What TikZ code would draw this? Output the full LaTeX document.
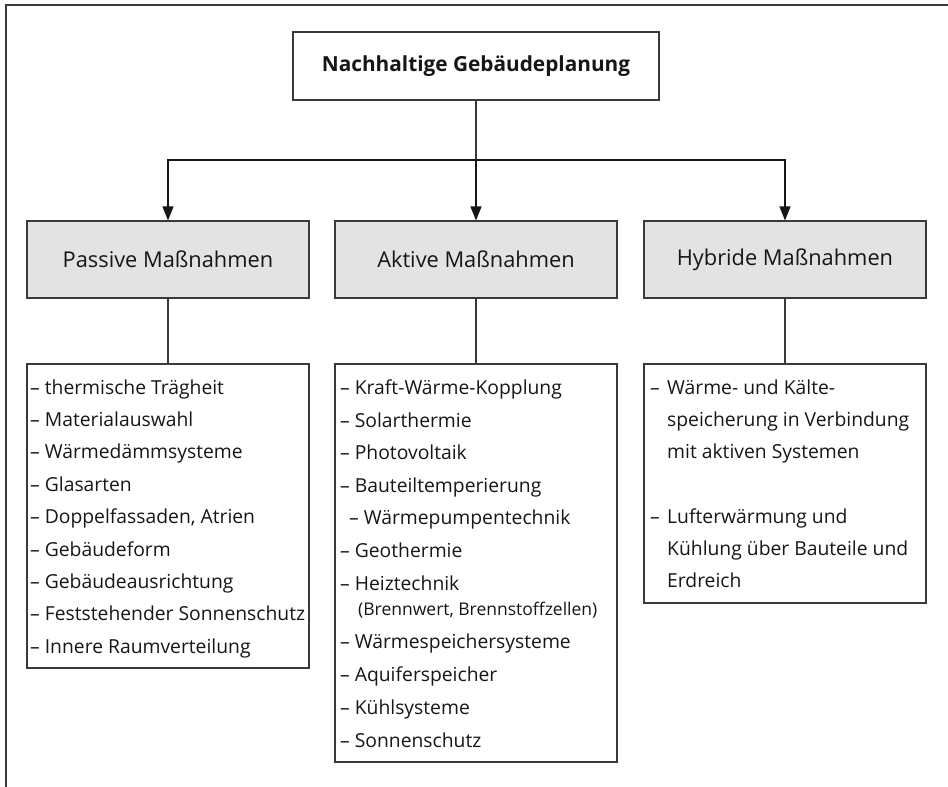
\documentclass[tikz,border=0pt]{standalone}
\usepackage{fontspec}
\setmainfont{Open Sans}
\usetikzlibrary{arrows.meta}
\definecolor{ink}{HTML}{161616}
\definecolor{edge}{HTML}{3A3A3A}
\definecolor{catfill}{HTML}{E3E3E3}
\begin{document}
\begin{tikzpicture}[x=1pt,y=-1pt,
  frame/.style={draw=edge, line width=1.8pt},
  topbox/.style={draw=edge, line width=1.1pt, fill=white, minimum width=366pt, minimum height=68pt, inner sep=0pt, font=\fontsize{20.8}{24}\selectfont\bfseries, text=ink},
  catbox/.style={draw=edge, line width=1.1pt, fill=catfill, minimum width=282pt, minimum height=77pt, inner sep=0pt, font=\fontsize{21.8}{26}\selectfont, text=ink},
  listbox/.style={draw=edge, line width=1.1pt, minimum width=282pt, inner sep=0pt},
  item/.style={anchor=base west, inner sep=0pt, font=\fontsize{19.3}{22}\selectfont, text=ink},
  subitem/.style={item, font=\fontsize{17.5}{20}\selectfont},
  conn/.style={draw=edge, line width=1.1pt},
  arr/.style={conn, -{Triangle[length=14pt,width=11pt]}, color=ink}
]
\useasboundingbox (0,0) rectangle (948,787);
\draw[frame] (6,787) -- (6,5) -- (948,5);

\node[topbox] (top) at (476,66) {Nachhaltige Gebäudeplanung};
\node[catbox] (pas) at (168,259.5) {Passive Maßnahmen};
\node[catbox] (akt) at (476,259.5) {Aktive Maßnahmen};
\node[catbox] (hyb) at (785,259.5) {Hybride Maßnahmen};

\coordinate (hub) at (476,160);
\draw[conn] (top.south) -- (hub);
\draw[arr] (hub) -| (pas.north);
\draw[arr] (hub) -- (akt.north);
\draw[arr] (hub) -| (hyb.north);

\node[listbox, minimum height=304pt] (pasl) at (168,516) {};
\node[listbox, minimum height=398pt] (aktl) at (476,563) {};
\node[listbox, minimum height=239pt] (hybl) at (785,483.5) {};

\draw[conn] (pas.south) -- (pasl.north);
\draw[conn] (akt.south) -- (aktl.north);
\draw[conn] (hyb.south) -- (hybl.north);

\foreach \t [count=\i] in {{– thermische Trägheit},{– Materialauswahl},{– Wärmedämmsysteme},{– Glasarten},{– Doppelfassaden, Atrien},{– Gebäudeform},{– Gebäudeausrichtung},{– Feststehender Sonnenschutz},{– Innere Raumverteilung}}
  \node[item] (p\i) at (30,{394+32.4*(\i-1)}) {\t};

\foreach \x/\y/\t [count=\i] in {340/394/{– Kraft-Wärme-Kopplung},340/427/{– Solarthermie},340/459/{– Photovoltaik},340/492/{– Bauteiltemperierung},349/524/{– Wärmepumpentechnik},340/557/{– Geothermie},340/590/{– Heiztechnik},340/648/{– Wärmespeichersysteme},340/681/{– Aquiferspeicher},340/714/{– Kühlsysteme},340/747/{– Sonnenschutz}}
  \node[item] (a\i) at (\x,\y) {\t};
\node[subitem] (abr) at (358,615) {(Brennwert, Brennstoffzellen)};

\node[item] (hd1) at (650,394) {–};
\node[item] (hd2) at (650,523) {–};
\foreach \y/\t [count=\i] in {394/{Wärme- und Kälte-},426.4/{speicherung in Verbindung},458.8/{mit aktiven Systemen},523/{Lufterwärmung und},555.4/{Kühlung über Bauteile und},587.8/{Erdreich}}
  \node[item] (h\i) at (667,\y) {\t};
\end{tikzpicture}
\end{document}
